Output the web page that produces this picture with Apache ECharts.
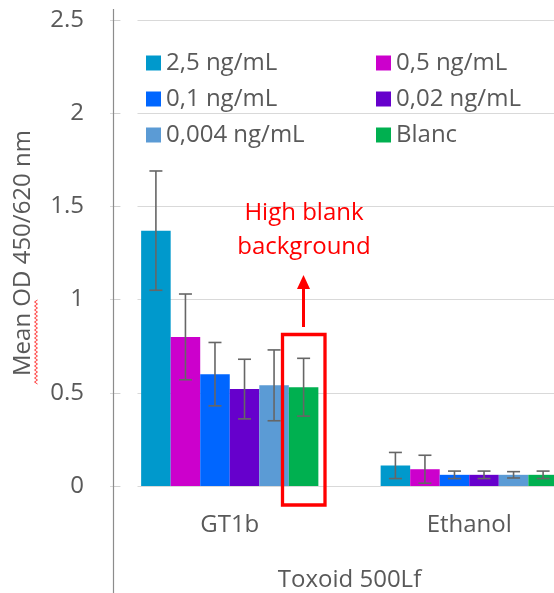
<!DOCTYPE html>
<html>
<head>
<meta charset="utf-8">
<script src="https://cdn.jsdelivr.net/npm/echarts@6/dist/echarts.min.js"></script>
<style>
  html, body { margin: 0; padding: 0; background: #fff; overflow: hidden; }
  #chart { width: 600px; height: 593px; }
</style>
</head>
<body>
<div id="chart"></div>
<script>
// categories + group label
const categories = ['GT1b', 'Ethanol']
const groupLabel = 'Toxoid 500Lf'
const seriesNames = ['2,5 ng/mL', '0,5 ng/mL', '0,1 ng/mL', '0,02 ng/mL', '0,004 ng/mL', 'Blanc']
const colors = ['#0099CC', '#CC00CC', '#0066FF', '#6600CC', '#5B9BD5', '#00B050']
// legend columns (Excel lays them out row by row)
const legendLeft = ['2,5 ng/mL', '0,1 ng/mL', '0,004 ng/mL']
const legendRight = ['0,5 ng/mL', '0,02 ng/mL', 'Blanc']

// mean OD per series, one value per category
const means = [
  [1.37, 0.11],
  [0.80, 0.09],
  [0.60, 0.06],
  [0.52, 0.06],
  [0.54, 0.06],
  [0.53, 0.06],
]
// error (+/-)
const errors = [
  [0.32, 0.07],
  [0.23, 0.075],
  [0.17, 0.02],
  [0.16, 0.02],
  [0.19, 0.017],
  [0.155, 0.02],
]
const yTicks = [0, 0.5, 1, 1.5, 2, 2.5]

const FONT = 'Open Sans'
const TXT = '#595959'
const GAP = 0.26 // barCategoryGap

const chart = echarts.init(document.getElementById('chart'))

// bars
const barSeries = seriesNames.map((name, i) => ({
  name: name,
  type: 'bar',
  data: means[i],
  barGap: 0,
  barCategoryGap: GAP * 100 + '%',
  itemStyle: { color: colors[i] },
  z: 2,
}))

// error bars data: [cat, mean, err, seriesIdx]
const errData = []
seriesNames.forEach((n, s) => {
  categories.forEach((c, k) => {
    errData.push([k, means[s][k], errors[s][k], s])
  })
})

const errSeries = {
  type: 'custom',
  name: 'err',
  data: errData,
  z: 3,
  silent: true,
  renderItem: (params, api) => {
    const k = api.value(0)
    const m = api.value(1)
    const e = api.value(2)
    const s = api.value(3)
    const top = api.coord([k, m + e])
    const bot = api.coord([k, m - e])
    const band = api.size([1, 0])[0]
    const bw = band * (1 - GAP) / seriesNames.length
    const x = top[0] + (s - (seriesNames.length - 1) / 2) * bw
    const cap = 6.5
    const style = { stroke: '#666666', lineWidth: 1.6 }
    return {
      type: 'group',
      children: [
        { type: 'line', shape: { x1: x, y1: top[1], x2: x, y2: bot[1] }, style },
        { type: 'line', shape: { x1: x - cap, y1: top[1], x2: x + cap, y2: top[1] }, style },
        { type: 'line', shape: { x1: x - cap, y1: bot[1], x2: x + cap, y2: bot[1] }, style },
      ],
    }
  },
}

// red squiggle (spell check mark) under "Mean"
const squiggle = []
for (let y = 300, j = 0; y <= 385; y += 2, j++) {
  squiggle.push([j % 2 ? 34.5 : 37.5, y])
}

const legendText = { color: TXT, fontSize: 24, fontFamily: FONT }
const legendBase = {
  orient: 'vertical',
  top: 46,
  itemWidth: 15,
  itemHeight: 15,
  itemGap: 12,
  icon: 'rect',
  textStyle: legendText,
  selectedMode: false,
}

const option = {
  animation: false,
  textStyle: { fontFamily: FONT },
  grid: { left: 110, right: 11, top: 20, bottom: 107, containLabel: false, outerBoundsMode: 'none' },
  legend: [
    Object.assign({}, legendBase, { data: legendLeft, left: 141 }),
    Object.assign({}, legendBase, { data: legendRight, left: 371 }),
  ],
  xAxis: {
    type: 'category',
    data: categories,
    axisLine: { show: false },
    axisTick: { show: false },
    axisLabel: { color: TXT, fontSize: 24, fontFamily: FONT, margin: 27 },
    name: groupLabel,
    nameLocation: 'middle',
    nameGap: 82,
    nameTextStyle: { color: TXT, fontSize: 24, fontFamily: FONT },
  },
  yAxis: {
    type: 'value',
    min: yTicks[0],
    max: yTicks[yTicks.length - 1],
    interval: 0.5,
    offset: -3,
    axisLine: { show: false },
    axisTick: { show: true, inside: true, length: 7, lineStyle: { color: '#d0d0d0' } },
    axisLabel: { color: TXT, fontSize: 24, fontFamily: FONT, margin: 29 },
    splitLine: { lineStyle: { color: '#d9d9d9', width: 1 } },
    name: 'Mean OD 450/620 nm',
    nameLocation: 'middle',
    nameGap: 78,
    nameTextStyle: { color: TXT, fontSize: 24, fontFamily: FONT },
  },
  graphic: [
    // axis line running down through the label area
    { type: 'line', z: 10, shape: { x1: 113.5, y1: 9, x2: 113.5, y2: 593 }, style: { stroke: '#8c8c8c', lineWidth: 1.2 } },
    // gridlines start right of the tick marks
    { type: 'rect', z: 5, shape: { x: 120.5, y: 0, width: 17, height: 495 }, style: { fill: '#fff' } },
    // annotation
    {
      type: 'text', z: 20, x: 304, y: 230,
      style: {
        text: 'High blank\nbackground', fill: '#FF0000', font: '24px "Open Sans"',
        textAlign: 'center', textVerticalAlign: 'middle', lineHeight: 34,
      },
    },
    { type: 'line', z: 20, shape: { x1: 303.5, y1: 327, x2: 303.5, y2: 286 }, style: { stroke: '#FF0000', lineWidth: 3 } },
    { type: 'polygon', z: 20, shape: { points: [[303.5, 275], [297, 289], [310, 289]] }, style: { fill: '#FF0000' } },
    { type: 'rect', z: 20, shape: { x: 282.5, y: 334.5, width: 42.5, height: 170.5 }, style: { fill: 'none', stroke: '#FF0000', lineWidth: 3.3 } },
    { type: 'polyline', z: 20, shape: { points: squiggle }, style: { stroke: '#ff3b3b', lineWidth: 1, fill: 'none' } },
  ],
  series: barSeries.concat([errSeries]),
}

chart.setOption(option)
</script>
</body>
</html>
